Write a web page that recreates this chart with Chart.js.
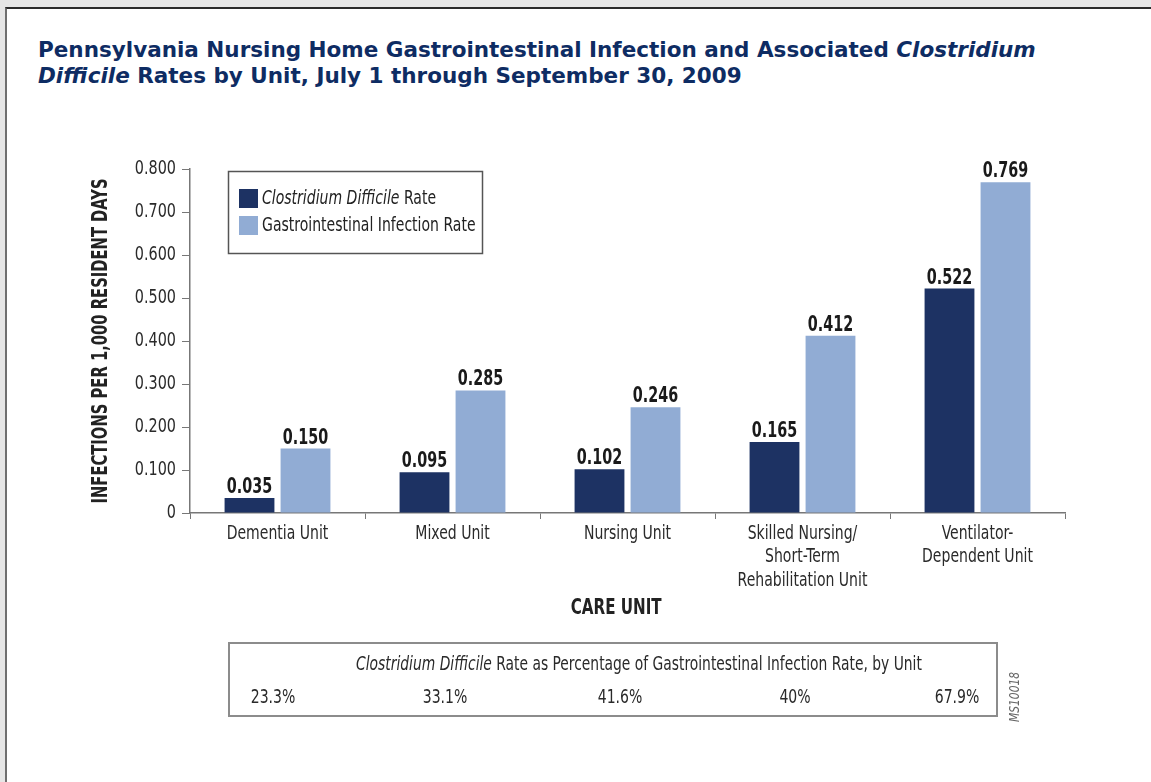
<!DOCTYPE html>
<html><head><meta charset="utf-8">
<script src="https://cdn.jsdelivr.net/npm/chart.js@4.4.0/dist/chart.umd.min.js"></script>
<style>
html,body{margin:0;padding:0;width:1151px;height:782px;overflow:hidden;background:#e6e6e6;}
#frame{position:absolute;left:5px;top:7px;width:1146px;height:775px;background:#fff;border-top:2px solid #2b2b2b;border-left:2px solid #6f6f6f;box-sizing:border-box;}
#title{position:absolute;left:38px;top:37px;font-family:"DejaVu Sans",sans-serif;font-weight:bold;font-size:21.5px;line-height:26px;color:#0e2c63;white-space:nowrap;}
#chart{position:absolute;left:0;top:0;}
#pctbox{position:absolute;left:228px;top:642px;width:770px;height:75px;border:2px solid #8c8c8c;box-sizing:border-box;font-family:"DejaVu Sans Condensed","DejaVu Sans",sans-serif;color:#2a2a2a;font-size:19.5px;}
#pcthead{position:absolute;left:26px;width:100%;top:8px;text-align:center;white-space:nowrap;transform:scaleX(0.79);}
.pct{position:absolute;top:41px;transform:translateX(-50%) scaleX(0.8);white-space:nowrap;}
#code{position:absolute;left:1006px;top:722px;transform-origin:0 0;transform:rotate(-90deg) scaleX(0.85);font-family:"DejaVu Sans Condensed","DejaVu Sans",sans-serif;font-style:italic;font-size:14px;color:#666;white-space:nowrap;}
</style></head>
<body>
<div id="frame"></div>
<div id="title">Pennsylvania Nursing Home Gastrointestinal Infection and Associated <i>Clostridium</i><br><i>Difficile</i> Rates by Unit, July 1 through September 30, 2009</div>
<canvas id="chart" width="1151" height="782"></canvas>
<div id="pctbox"><div id="pcthead"><i>Clostridium Difficile</i> Rate as Percentage of Gastrointestinal Infection Rate, by Unit</div></div>
<div id="code">MS10018</div>
<script>
const categories = [['Dementia Unit'], ['Mixed Unit'], ['Nursing Unit'], ['Skilled Nursing/', 'Short-Term', 'Rehabilitation Unit'], ['Ventilator-', 'Dependent Unit']];
const cdiffRate = [0.035, 0.095, 0.102, 0.165, 0.522];
const giRate = [0.150, 0.285, 0.246, 0.412, 0.769];
const yTickValues = [0, 0.1, 0.2, 0.3, 0.4, 0.5, 0.6, 0.7, 0.8];
const yTickLabels = ['0', '0.100', '0.200', '0.300', '0.400', '0.500', '0.600', '0.700', '0.800'];
const pctLabels = ['23.3%', '33.1%', '41.6%', '40%', '67.9%'];
const seriesNames = [['Clostridium Difficile', ' Rate'], ['', 'Gastrointestinal Infection Rate']];

const FONT = '"DejaVu Sans Condensed","DejaVu Sans",sans-serif';
const DARK = '#1d3263';
const LIGHT = '#91acd4';
const SX = 0.8; // horizontal condensing of canvas text

// percentage row
const pctX = [43, 215, 390, 565, 727];
const box = document.getElementById('pctbox');
pctLabels.forEach((t, i) => {
  const d = document.createElement('div');
  d.className = 'pct'; d.textContent = t; d.style.left = pctX[i] + 'px';
  box.appendChild(d);
});

const canvas = document.getElementById('chart');
const c2d = canvas.getContext('2d');
const origFill = c2d.fillText;
c2d.fillText = function (t, x, y, mw) {
  const s = this._sx || SX;
  this.save();
  this.translate(x, y);
  this.scale(s, 1);
  if (mw === undefined) origFill.call(this, t, 0, 0); else origFill.call(this, t, 0, 0, mw / s);
  this.restore();
};

const valueLabels = {
  id: 'valueLabels',
  afterDatasetsDraw(chart) {
    const ctx = chart.ctx;
    ctx.save();
    ctx._sx = 0.76;
    ctx.font = 'bold 21px ' + FONT;
    ctx.textAlign = 'center';
    ctx.textBaseline = 'alphabetic';
    ctx.fillStyle = '#1a1a1a';
    chart.data.datasets.forEach((ds, i) => {
      chart.getDatasetMeta(i).data.forEach((bar, j) => {
        ctx.fillText(ds.data[j].toFixed(3), bar.x, bar.y - 5);
      });
    });
    ctx._sx = 0;
    ctx.restore();
  }
};

const customLegend = {
  id: 'customLegend',
  afterDraw(chart) {
    const ctx = chart.ctx;
    ctx.save();
    ctx.strokeStyle = '#555';
    ctx.lineWidth = 1.5;
    ctx.strokeRect(228.5, 171.5, 254, 82);
    const rows = [199, 226];
    chart.data.datasets.forEach((ds, i) => {
      ctx.fillStyle = ds.backgroundColor;
      ctx.fillRect(239, rows[i] - 10, 19, 19);
      let x = 262;
      ctx.fillStyle = '#222';
      ctx.textBaseline = 'middle';
      ctx.textAlign = 'left';
      const [it, rest] = seriesNames[i];
      if (it) {
        ctx.font = 'italic 19.5px ' + FONT;
        ctx.fillText(it, x, rows[i]);
        x += ctx.measureText(it).width * SX;
      }
      ctx.font = '19.5px ' + FONT;
      ctx.fillText(rest, x, rows[i]);
    });
    ctx.restore();
  }
};

new Chart(canvas, {
  type: 'bar',
  data: {
    labels: categories,
    datasets: [
      { label: 'Clostridium Difficile Rate', data: cdiffRate, backgroundColor: DARK, categoryPercentage: 0.64, barPercentage: 0.89 },
      { label: 'Gastrointestinal Infection Rate', data: giRate, backgroundColor: LIGHT, categoryPercentage: 0.64, barPercentage: 0.89 }
    ]
  },
  options: {
    responsive: false,
    animation: false,
    layout: { padding: { left: 85, top: 169, right: 86, bottom: 161 } },
    plugins: { legend: { display: false }, tooltip: { enabled: false } },
    scales: {
      x: {
        afterFit(s) { s.height = 108; },
        grid: { offset: true, drawOnChartArea: false, drawTicks: true, tickLength: 6, color: '#777' },
        border: { display: true, color: '#777', width: 1.5 },
        ticks: { color: '#2a2a2a', font: { family: FONT, size: 19.5 }, padding: 3, maxRotation: 0, autoSkip: false },
        title: { display: true, text: 'CARE UNIT\u2002\u2002\u2002', color: '#222', font: { family: FONT, size: 21, weight: 'bold' }, padding: { top: 0, bottom: 0 } }
      },
      y: {
        min: 0, max: 0.8,
        afterFit(s) { s.width = 105; },
        afterBuildTicks(s) { s.ticks = yTickValues.map(v => ({ value: v })); },
        grid: { drawOnChartArea: false, drawTicks: true, tickLength: 8, color: '#777' },
        border: { display: true, color: '#777', width: 1.5 },
        ticks: {
          color: '#2a2a2a', font: { family: FONT, size: 20 }, padding: 6,
          callback: (v) => yTickLabels[yTickValues.findIndex(t => Math.abs(t - v) < 1e-9)]
        },
        title: { display: true, text: 'INFECTIONS PER 1,000 RESIDENT DAYS', color: '#222', font: { family: FONT, size: 20.5, weight: 'bold' }, padding: { top: 4, bottom: 0 } }
      }
    }
  },
  plugins: [valueLabels, customLegend]
});
</script>
</body></html>
